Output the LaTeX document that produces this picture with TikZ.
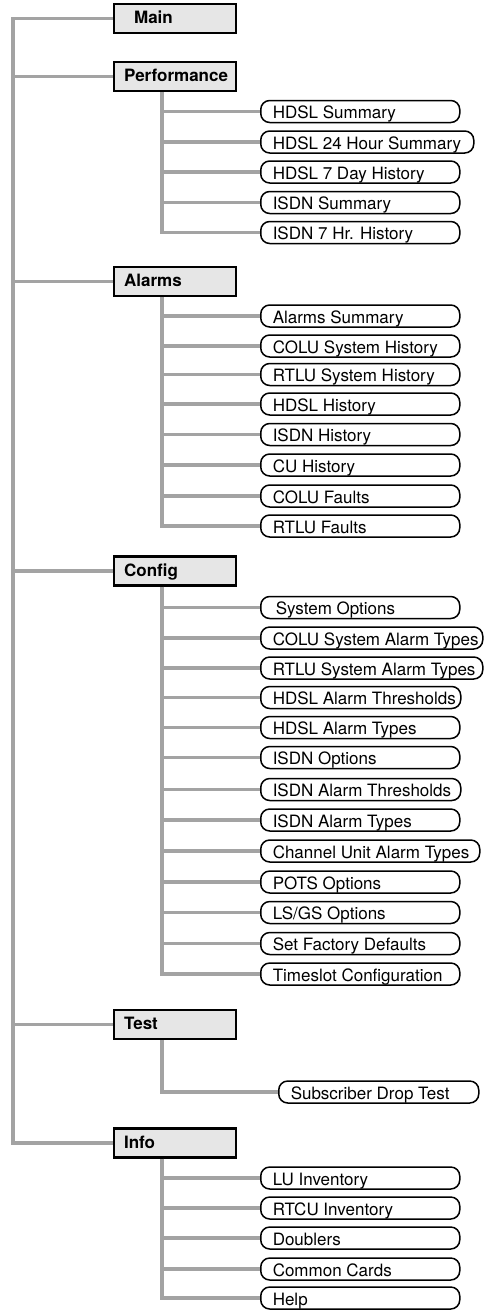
\documentclass[tikz,border=0pt]{standalone}
\usepackage{fontspec}
\setmainfont{TeX Gyre Heros}
\definecolor{boxfill}{HTML}{E6E6E6}
\definecolor{linegray}{HTML}{A3A3A3}
\begin{document}
\begin{tikzpicture}[x=1pt,y=-1pt,
  menubox/.style={draw=black, fill=boxfill, line width=2.2pt, anchor=west,
    minimum height=29pt, inner ysep=0pt, text height=13pt, text depth=2.6pt,
    font=\fontsize{17}{20}\selectfont\bfseries},
  leaf/.style={draw=black, fill=white, line width=1.5pt, rounded corners=9pt,
    anchor=west, minimum height=22pt, inner ysep=0pt, inner xsep=12pt,
    text height=15pt, text depth=1pt, font=\fontsize{17}{20}\selectfont},
  gl/.style={draw=linegray, line width=3.2pt, line join=miter}
]
\useasboundingbox (0,0) rectangle (483,1310);

% top-level boxes
\node[menubox, inner xsep=20pt] (main) at (113,18.5) {\makebox[82pt][l]{Main}};
\node[menubox, inner xsep=10pt] (perf) at (113,76.5) {\makebox[102pt][l]{Performance}};
\node[menubox, inner xsep=10pt] (alarm) at (113,281.5) {\makebox[102pt][l]{Alarms}};
\node[menubox, inner xsep=10pt] (conf) at (113,571) {\makebox[102pt][l]{Config}};
\node[menubox, inner xsep=10pt] (test) at (113,1024.5) {\makebox[102pt][l]{Test}};
\node[menubox, inner xsep=10pt] (info) at (113,1143) {\makebox[102pt][l]{Info}};

% main trunk
\coordinate (t0) at (13,18.5);
\coordinate (t1) at (13,1143);

% Performance leaves
\node[leaf] (p1) at (260,111.5) {\makebox[175pt][l]{HDSL Summary}};
\node[leaf] (p2) at (260,142) {\makebox[189pt][l]{HDSL 24 Hour Summary}};
\node[leaf] (p3) at (260,172) {\makebox[175pt][l]{HDSL 7 Day History}};
\node[leaf] (p4) at (260,202.5) {\makebox[175pt][l]{ISDN Summary}};
\node[leaf] (p5) at (260,232.5) {\makebox[175pt][l]{ISDN 7 Hr. History}};

% Alarms leaves
\node[leaf] (a1) at (260,316) {\makebox[175pt][l]{Alarms Summary}};
\node[leaf] (a2) at (260,346) {\makebox[175pt][l]{COLU System History}};
\node[leaf] (a3) at (260,374.5) {\makebox[175pt][l]{RTLU System History}};
\node[leaf] (a4) at (260,404) {\makebox[175pt][l]{HDSL History}};
\node[leaf] (a5) at (260,434.5) {\makebox[175pt][l]{ISDN History}};
\node[leaf] (a6) at (260,465) {\makebox[175pt][l]{CU History}};
\node[leaf] (a7) at (260,496) {\makebox[175pt][l]{COLU Faults}};
\node[leaf] (a8) at (260,526) {\makebox[175pt][l]{RTLU Faults}};

% Config leaves
\node[leaf] (c1) at (260,607.5) {\makebox[175pt][l]{\hspace{3pt}System Options}};
\node[leaf] (c2) at (260,638) {\makebox[198pt][l]{COLU System Alarm Types}};
\node[leaf] (c3) at (260,668) {\makebox[198pt][l]{RTLU System Alarm Types}};
\node[leaf] (c4) at (260,697.5) {\makebox[176pt][l]{HDSL Alarm Thresholds}};
\node[leaf] (c5) at (260,727.5) {\makebox[175pt][l]{HDSL Alarm Types}};
\node[leaf] (c6) at (260,757.5) {\makebox[175pt][l]{ISDN Options}};
\node[leaf] (c7) at (260,789.5) {\makebox[176pt][l]{ISDN Alarm Thresholds}};
\node[leaf] (c8) at (260,820) {\makebox[175pt][l]{ISDN Alarm Types}};
\node[leaf] (c9) at (260,851) {\makebox[195pt][l]{Channel Unit Alarm Types}};
\node[leaf] (c10) at (260,882) {\makebox[175pt][l]{POTS Options}};
\node[leaf] (c11) at (260,912.5) {\makebox[175pt][l]{LS/GS Options}};
\node[leaf] (c12) at (260,943.5) {\makebox[175pt][l]{Set Factory Defaults}};
\node[leaf] (c13) at (260,974) {\makebox[175pt][l]{Timeslot Configuration}};

% Test leaf
\node[leaf] (s1) at (278,1092) {\makebox[176pt][l]{Subscriber Drop Test}};

% Info leaves
\node[leaf] (i1) at (260,1178) {\makebox[175pt][l]{LU Inventory}};
\node[leaf] (i2) at (260,1208) {\makebox[175pt][l]{RTCU Inventory}};
\node[leaf] (i3) at (260,1238) {\makebox[175pt][l]{Doublers}};
\node[leaf] (i4) at (260,1269) {\makebox[175pt][l]{Common Cards}};
\node[leaf] (i5) at (260,1298) {\makebox[175pt][l]{Help}};

% connectors
\path[gl] (main.west) -- (t0) -- (t1) -- (info.west);
\foreach \b in {perf,alarm,conf,test} \path[gl] (\b.west) -- (\b.west -| t0);

\coordinate (ps) at ([xshift=49pt]perf.south west);
\path[gl] (ps) |- (p5.west);
\foreach \l in {p1,p2,p3,p4} \path[gl] (\l.west) -- (\l.west -| ps);

\coordinate (as) at ([xshift=49pt]alarm.south west);
\path[gl] (as) |- (a8.west);
\foreach \l in {a1,a2,a3,a4,a5,a6,a7} \path[gl] (\l.west) -- (\l.west -| as);

\coordinate (cs) at ([xshift=49pt]conf.south west);
\path[gl] (cs) |- (c13.west);
\foreach \l in {c1,c2,c3,c4,c5,c6,c7,c8,c9,c10,c11,c12} \path[gl] (\l.west) -- (\l.west -| cs);

\coordinate (ts) at ([xshift=49pt]test.south west);
\path[gl] (ts) |- (s1.west);

\coordinate (is) at ([xshift=49pt]info.south west);
\path[gl] (is) |- (i5.west);
\foreach \l in {i1,i2,i3,i4} \path[gl] (\l.west) -- (\l.west -| is);
\end{tikzpicture}
\end{document}
